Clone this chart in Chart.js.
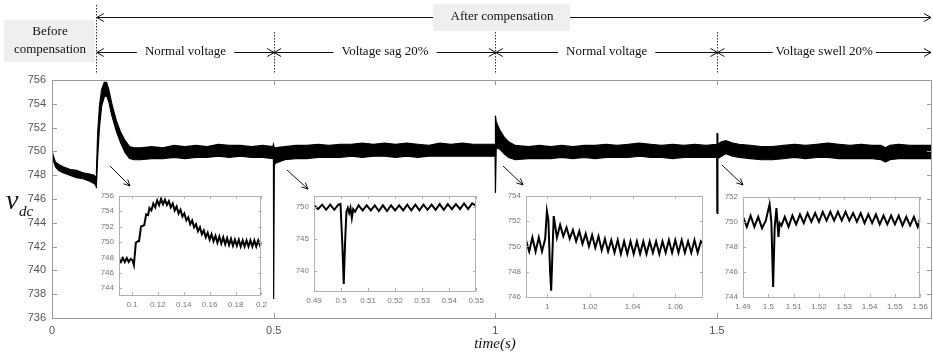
<!DOCTYPE html>
<html>
<head>
<meta charset="utf-8">
<script src="https://cdn.jsdelivr.net/npm/chart.js@4.4.1/dist/chart.umd.min.js"></script>
<style>
html, body { margin: 0; padding: 0; background: #fff; }
#wrap { position: relative; width: 933px; height: 357px; overflow: hidden; }
canvas { position: absolute; }
</style>
</head>
<body>
<div id="wrap">
  <canvas id="main" width="933" height="357" style="left:0;top:0"></canvas>
</div>
<script>
// ---- main trace: upper / lower edge of the noisy band ----
const mainT  = [0, 0.003, 0.008, 0.015, 0.025, 0.04, 0.055, 0.07, 0.085, 0.095, 0.0995, 0.1, 0.1005, 0.103, 0.107, 0.112, 0.118, 0.123, 0.128, 0.135, 0.145, 0.155, 0.165, 0.175, 0.185, 0.2, 0.225, 0.25, 0.275, 0.3, 0.325, 0.35, 0.375, 0.4, 0.425, 0.45, 0.475, 0.4985, 0.4995, 0.5, 0.5015, 0.503, 0.525, 0.55, 0.575, 0.6, 0.625, 0.65, 0.675, 0.7, 0.725, 0.75, 0.775, 0.8, 0.825, 0.85, 0.875, 0.9, 0.925, 0.95, 0.975, 0.9995, 1.0, 1.0005, 1.002, 1.01, 1.02, 1.03, 1.045, 1.075, 1.1, 1.125, 1.15, 1.175, 1.2, 1.225, 1.25, 1.275, 1.3, 1.325, 1.35, 1.375, 1.4, 1.425, 1.45, 1.475, 1.4995, 1.5, 1.5005, 1.502, 1.51, 1.52, 1.535, 1.55, 1.575, 1.6, 1.625, 1.65, 1.675, 1.7, 1.725, 1.75, 1.775, 1.8, 1.825, 1.85, 1.87, 1.88, 1.89, 1.91, 1.935, 1.96, 1.99];
const mainHi = [750.1, 749.6, 749.1, 748.9, 748.7, 748.5, 748.4, 748.2, 748.1, 748.0, 747.8, 747.6, 748.3, 751.5, 753.8, 755.2, 755.8, 755.8, 755.2, 754.0, 752.6, 751.6, 750.9, 750.4, 750.3, 750.3, 750.4, 750.3, 750.5, 750.4, 750.5, 750.4, 750.6, 750.5, 750.5, 750.4, 750.5, 750.4, 750.6, 750.6, 750.3, 750.3, 750.4, 750.5, 750.5, 750.6, 750.5, 750.6, 750.6, 750.7, 750.6, 750.7, 750.6, 750.7, 750.6, 750.5, 750.7, 750.6, 750.7, 750.6, 750.6, 750.6, 753.0, 753.0, 752.5, 751.8, 751.2, 750.8, 750.5, 750.4, 750.5, 750.4, 750.5, 750.4, 750.5, 750.5, 750.6, 750.5, 750.6, 750.7, 750.6, 750.5, 750.6, 750.5, 750.6, 750.5, 750.6, 751.5, 751.5, 750.6, 750.8, 750.9, 750.7, 750.6, 750.5, 750.4, 750.4, 750.5, 750.6, 750.5, 750.6, 750.7, 750.6, 750.5, 750.6, 750.5, 750.5, 750.3, 750.5, 750.6, 750.5, 750.5, 750.5];
const mainLo = [749.9, 749.2, 748.7, 748.4, 748.2, 748.0, 747.8, 747.7, 747.5, 747.3, 747.1, 746.9, 747.2, 749.5, 752.0, 753.8, 754.6, 754.7, 754.2, 753.0, 751.7, 750.7, 749.9, 749.4, 749.3, 749.3, 749.4, 749.4, 749.5, 749.4, 749.5, 749.5, 749.6, 749.5, 749.6, 749.5, 749.5, 749.4, 749.4, 737.6, 749.1, 749.0, 749.3, 749.4, 749.4, 749.5, 749.5, 749.5, 749.6, 749.5, 749.6, 749.6, 749.5, 749.6, 749.5, 749.6, 749.6, 749.6, 749.6, 749.6, 749.6, 749.6, 746.6, 746.5, 750.3, 750.2, 749.8, 749.5, 749.3, 749.4, 749.4, 749.4, 749.5, 749.4, 749.5, 749.4, 749.5, 749.5, 749.5, 749.6, 749.5, 749.5, 749.4, 749.5, 749.5, 749.5, 749.5, 744.9, 744.8, 749.4, 749.6, 749.8, 749.6, 749.5, 749.4, 749.3, 749.3, 749.4, 749.5, 749.4, 749.5, 749.5, 749.4, 749.4, 749.4, 749.4, 749.3, 749.1, 749.3, 749.4, 749.4, 749.4, 749.4];
const mainXTicks = [0, 0.5, 1, 1.5];
const mainYTicks = [736, 738, 740, 742, 744, 746, 748, 750, 752, 754, 756];

// ---- phases ----
const phaseT = [0.1, 0.5, 1, 1.5];
const phaseLabels = ['Normal voltage', 'Voltage sag 20%', 'Normal voltage', 'Voltage swell 20%'];

// ---- zoomed insets ----
const inset1T = [0.0900, 0.0915, 0.0930, 0.0945, 0.0960, 0.0975, 0.0990, 0.1005, 0.1015, 0.1030, 0.1045, 0.1055, 0.1070, 0.1085, 0.1095, 0.1110, 0.1125, 0.1135, 0.1150, 0.1165, 0.1180, 0.1195, 0.1210, 0.1225, 0.1240, 0.1255, 0.1270, 0.1285, 0.1300, 0.1315, 0.1330, 0.1345, 0.1360, 0.1375, 0.1390, 0.1405, 0.1420, 0.1435, 0.1450, 0.1465, 0.1480, 0.1495, 0.1510, 0.1525, 0.1540, 0.1555, 0.1570, 0.1585, 0.1600, 0.1615, 0.1630, 0.1645, 0.1660, 0.1675, 0.1690, 0.1705, 0.1720, 0.1735, 0.1750, 0.1765, 0.1780, 0.1795, 0.1810, 0.1825, 0.1840, 0.1855, 0.1870, 0.1885, 0.1900, 0.1915, 0.1930, 0.1945, 0.1960, 0.1975, 0.1990, 0.2000];
const inset1V = [747.8, 747.4, 747.9, 747.4, 747.9, 747.4, 747.8, 747.6, 747.0, 749.9, 750.1, 750.1, 752.0, 752.1, 752.2, 753.6, 753.5, 754.4, 754.1, 755.0, 754.5, 755.4, 754.8, 755.6, 754.9, 755.5, 754.8, 755.3, 754.5, 755.0, 754.1, 754.6, 753.7, 754.2, 753.3, 753.7, 752.8, 753.2, 752.3, 752.8, 751.9, 752.3, 751.4, 751.9, 751.0, 751.5, 750.6, 751.2, 750.3, 751.0, 750.1, 750.8, 749.9, 750.7, 749.8, 750.6, 749.7, 750.5, 749.6, 750.4, 749.5, 750.3, 749.5, 750.3, 749.4, 750.2, 749.4, 750.2, 749.4, 750.2, 749.4, 750.2, 749.4, 750.2, 749.5, 750.0];
const inset1XTicks = [0.1, 0.12, 0.14, 0.16, 0.18, 0.2];
const inset1YTicks = [744, 746, 748, 750, 752, 754, 756];

const inset2T = [0.4900, 0.4915, 0.4930, 0.4945, 0.4960, 0.4975, 0.4990, 0.4998, 0.5005, 0.5010, 0.5015, 0.5020, 0.5025, 0.5030, 0.5035, 0.5040, 0.5045, 0.5052, 0.5065, 0.5080, 0.5095, 0.5110, 0.5125, 0.5140, 0.5155, 0.5170, 0.5185, 0.5200, 0.5215, 0.5230, 0.5245, 0.5260, 0.5275, 0.5290, 0.5305, 0.5320, 0.5335, 0.5350, 0.5365, 0.5380, 0.5395, 0.5410, 0.5425, 0.5440, 0.5455, 0.5470, 0.5485, 0.5500];
const inset2V = [750.3, 749.7, 750.4, 749.6, 750.4, 749.6, 750.4, 750.5, 744.0, 737.9, 744.5, 749.3, 749.9, 749.1, 749.9, 748.3, 749.7, 749.3, 750.3, 749.5, 750.3, 749.5, 750.3, 749.4, 750.3, 749.4, 750.3, 749.5, 750.3, 749.5, 750.4, 749.5, 750.4, 749.5, 750.4, 749.6, 750.4, 749.6, 750.5, 749.6, 750.5, 749.7, 750.5, 749.7, 750.6, 749.7, 750.6, 750.2];
const inset2XTicks = [0.49, 0.5, 0.51, 0.52, 0.53, 0.54, 0.55];
const inset2YTicks = [740, 745, 750];

const inset3T = [0.9900, 0.9915, 0.9930, 0.9945, 0.9960, 0.9975, 0.9990, 0.9998, 1.0005, 1.0013, 1.0018, 1.0024, 1.0030, 1.0045, 1.0060, 1.0075, 1.0090, 1.0105, 1.0120, 1.0135, 1.0150, 1.0165, 1.0180, 1.0195, 1.0210, 1.0225, 1.0240, 1.0255, 1.0270, 1.0285, 1.0300, 1.0315, 1.0330, 1.0345, 1.0360, 1.0375, 1.0390, 1.0405, 1.0420, 1.0435, 1.0450, 1.0465, 1.0480, 1.0495, 1.0510, 1.0525, 1.0540, 1.0555, 1.0570, 1.0585, 1.0600, 1.0615, 1.0630, 1.0645, 1.0660, 1.0675, 1.0690, 1.0705, 1.0720, 1.0730];
const inset3V = [750.5, 749.6, 750.7, 749.6, 750.7, 749.6, 750.6, 752.8, 752.1, 748.0, 746.5, 749.5, 752.4, 750.7, 751.7, 750.8, 751.5, 750.6, 751.3, 750.4, 751.2, 750.2, 751.0, 750.0, 750.9, 749.9, 750.8, 749.7, 750.6, 749.6, 750.5, 749.5, 750.5, 749.4, 750.4, 749.4, 750.4, 749.4, 750.4, 749.4, 750.4, 749.4, 750.4, 749.5, 750.4, 749.4, 750.4, 749.5, 750.5, 749.5, 750.5, 749.5, 750.5, 749.5, 750.4, 749.5, 750.5, 749.5, 750.4, 750.2];
const inset3XTicks = [1, 1.02, 1.04, 1.06];
const inset3YTicks = [746, 748, 750, 752, 754];

const inset4T = [1.4900, 1.4915, 1.4930, 1.4945, 1.4960, 1.4975, 1.4990, 1.5005, 1.5012, 1.5019, 1.5025, 1.5032, 1.5040, 1.5045, 1.5052, 1.5065, 1.5080, 1.5095, 1.5110, 1.5125, 1.5140, 1.5155, 1.5170, 1.5185, 1.5200, 1.5215, 1.5230, 1.5245, 1.5260, 1.5275, 1.5290, 1.5305, 1.5320, 1.5335, 1.5350, 1.5365, 1.5380, 1.5395, 1.5410, 1.5425, 1.5440, 1.5455, 1.5470, 1.5485, 1.5500, 1.5515, 1.5530, 1.5545, 1.5560, 1.5575, 1.5590, 1.5600];
const inset4V = [750.4, 749.6, 750.5, 749.6, 750.4, 749.5, 750.1, 751.4, 750.0, 744.8, 749.5, 751.1, 748.8, 749.9, 749.7, 750.4, 749.6, 750.5, 749.8, 750.6, 749.9, 750.7, 750.0, 750.7, 750.0, 750.8, 750.1, 750.8, 750.1, 750.8, 750.1, 750.8, 750.1, 750.7, 750.0, 750.7, 749.9, 750.6, 749.9, 750.6, 749.8, 750.5, 749.8, 750.5, 749.8, 750.5, 749.7, 750.4, 749.7, 750.4, 749.6, 750.3];
const inset4XTicks = [1.49, 1.5, 1.51, 1.52, 1.53, 1.54, 1.55, 1.56];
const inset4YTicks = [744, 746, 748, 750, 752];

const pts = (t, v) => t.map((x, i) => ({ x: x, y: v[i] }));

// frame round the plot area, with MATLAB-like inward ticks on every side
function boxPlugin(len, color) {
  return {
    id: 'boxTicks',
    afterDatasetsDraw(chart) {
      const ctx = chart.ctx, a = chart.chartArea;
      const xs = chart.scales.x, ys = chart.scales.y;
      ctx.save();
      ctx.strokeStyle = color;
      ctx.lineWidth = 1;
      ctx.strokeRect(Math.round(a.left) + 0.5, Math.round(a.top) + 0.5,
        Math.round(a.right - a.left) - 1, Math.round(a.bottom - a.top));
      ctx.beginPath();
      xs.ticks.forEach(t => {
        const x = Math.round(xs.getPixelForValue(t.value)) + 0.5;
        ctx.moveTo(x, a.bottom); ctx.lineTo(x, a.bottom - len);
        ctx.moveTo(x, a.top); ctx.lineTo(x, a.top + len);
      });
      ys.ticks.forEach(t => {
        const y = Math.round(ys.getPixelForValue(t.value)) + 0.5;
        ctx.moveTo(a.left, y); ctx.lineTo(a.left + len, y);
        ctx.moveTo(a.right, y); ctx.lineTo(a.right - len, y);
      });
      ctx.stroke();
      ctx.restore();
    }
  };
}

function chevron(ctx, x, y, dir) {
  ctx.beginPath();
  ctx.moveTo(x - dir * 7, y - 4);
  ctx.lineTo(x, y);
  ctx.lineTo(x - dir * 7, y + 4);
  ctx.stroke();
}

function arrowTo(ctx, x1, y1, x2, y2) {
  const ang = Math.atan2(y2 - y1, x2 - x1);
  ctx.beginPath();
  ctx.moveTo(x1, y1); ctx.lineTo(x2, y2);
  ctx.moveTo(x2 - 7 * Math.cos(ang - 0.45), y2 - 7 * Math.sin(ang - 0.45));
  ctx.lineTo(x2, y2);
  ctx.lineTo(x2 - 7 * Math.cos(ang + 0.45), y2 - 7 * Math.sin(ang + 0.45));
  ctx.stroke();
}

const notes = {
  id: 'notes',
  afterDraw(chart) {
    const ctx = chart.ctx, xs = chart.scales.x;
    const serif = '"Liberation Serif", "Times New Roman", serif';
    ctx.save();
    // dotted phase boundaries
    ctx.strokeStyle = '#333';
    ctx.lineWidth = 1;
    ctx.setLineDash([1.5, 1.5]);
    phaseT.forEach((t, i) => {
      const x = Math.round(xs.getPixelForValue(t)) + 0.5;
      ctx.beginPath();
      ctx.moveTo(x, i === 0 ? 5 : 32);
      ctx.lineTo(x, 73);
      ctx.stroke();
    });
    ctx.setLineDash([]);

    // grey label boxes
    ctx.fillStyle = '#efefef';
    ctx.fillRect(4, 20, 91, 42);
    ctx.font = '13px ' + serif;
    ctx.textAlign = 'center';
    ctx.textBaseline = 'middle';

    // top arrow: after compensation
    const x0 = xs.getPixelForValue(phaseT[0]);
    ctx.strokeStyle = '#111';
    ctx.beginPath(); ctx.moveTo(x0, 17.5); ctx.lineTo(931, 17.5); ctx.stroke();
    chevron(ctx, x0 + 0.5, 17.5, -1);
    chevron(ctx, 931, 17.5, 1);
    ctx.fillStyle = '#efefef';
    ctx.fillRect(433, 4, 137, 27);
    ctx.fillStyle = '#111';
    ctx.fillText('After compensation', 502, 17);
    ctx.fillText('Before', 50, 32);
    ctx.fillText('compensation', 50, 50);

    // phase arrows
    const ends = phaseT.map(t => xs.getPixelForValue(t)).concat([931]);
    phaseLabels.forEach((lab, i) => {
      const l = ends[i] + 0.5, r = ends[i + 1] + (i === 3 ? 0 : 0.5);
      const c = (l + r) / 2;
      const w = ctx.measureText(lab).width;
      const gap = i === 3 ? 3 : 8;
      ctx.beginPath();
      ctx.moveTo(l, 52.5); ctx.lineTo(c - w / 2 - gap, 52.5);
      ctx.moveTo(c + w / 2 + gap, 52.5); ctx.lineTo(r, 52.5);
      ctx.stroke();
      chevron(ctx, l, 52.5, -1);
      chevron(ctx, r, 52.5, 1);
      ctx.fillText(lab, c, 52);
    });

    // small arrows pointing at the insets
    ctx.lineWidth = 1;
    arrowTo(ctx, 110, 166, 130, 186);
    arrowTo(ctx, 287, 170, 308, 189);
    arrowTo(ctx, 503, 166, 523, 185);
    arrowTo(ctx, 722, 165, 743, 185);

    // axis titles
    ctx.textAlign = 'left';
    ctx.textBaseline = 'alphabetic';
    ctx.font = 'italic 28px ' + serif;
    ctx.fillText('v', 6, 209);
    ctx.font = 'italic 15px ' + serif;
    ctx.fillText('dc', 19, 216);
    ctx.textAlign = 'center';
    ctx.font = 'italic 15px ' + serif;
    ctx.fillText('time(s)', 495, 348);
    ctx.restore();
  }
};

const tickFont = { family: '"Liberation Sans", Arial, sans-serif', size: 11 };

new Chart(document.getElementById('main'), {
  type: 'line',
  data: {
    datasets: [{
      data: pts(mainT, mainHi),
      borderColor: '#000', backgroundColor: '#000', borderWidth: 1.2,
      pointRadius: 0, fill: '+1', tension: 0
    }, {
      data: pts(mainT, mainLo),
      borderColor: '#000', backgroundColor: '#000', borderWidth: 1.2,
      pointRadius: 0, fill: false, tension: 0
    }]
  },
  options: {
    responsive: false,
    animation: false,
    layout: { padding: { top: 80, right: 1, left: 0, bottom: 0 }, autoPadding: false },
    plugins: { legend: { display: false }, tooltip: { enabled: false } },
    scales: {
      x: {
        type: 'linear', min: 0, max: 1.985,
        grid: { display: false, drawTicks: false }, border: { display: false },
        afterBuildTicks: s => { s.ticks = mainXTicks.map(v => ({ value: v })); },
        afterFit: s => { s.height = 39; },
        ticks: { padding: 6, color: '#555', font: tickFont, maxRotation: 0, callback: v => String(v) }
      },
      y: {
        min: 736, max: 756,
        grid: { display: false, drawTicks: false }, border: { display: false },
        afterBuildTicks: s => { s.ticks = mainYTicks.map(v => ({ value: v })); },
        afterFit: s => { s.width = 52; },
        ticks: { padding: 6, color: '#555', font: tickFont, callback: v => String(v) }
      }
    }
  },
  plugins: [boxPlugin(5, '#9a9a9a'), notes]
});

// ---- insets ----
const insets = [
  { box: [119, 192, 262, 295], x: [0.09, 0.2], y: [743.1, 756], xt: inset1XTicks, yt: inset1YTicks, t: inset1T, v: inset1V },
  { box: [314, 192, 479, 291], x: [0.49, 0.55], y: [736.8, 751.8], xt: inset2XTicks, yt: inset2YTicks, t: inset2T, v: inset2V },
  { box: [526, 192, 703, 297], x: [0.99, 1.073], y: [746, 754], xt: inset3XTicks, yt: inset3YTicks, t: inset3T, v: inset3V },
  { box: [743, 193, 923, 297], x: [1.49, 1.56], y: [744, 752], xt: inset4XTicks, yt: inset4YTicks, t: inset4T, v: inset4V }
];
const smallFont = { family: '"Liberation Sans", Arial, sans-serif', size: 8 };
const padL = 30, padT = 6, padR = 10, padB = 18;

insets.forEach(ins => {
  const c = document.createElement('canvas');
  const w = ins.box[2] - ins.box[0], h = ins.box[3] - ins.box[1];
  c.width = w + padL + padR;
  c.height = h + padT + padB;
  c.style.left = (ins.box[0] - padL) + 'px';
  c.style.top = (ins.box[1] - padT) + 'px';
  document.getElementById('wrap').appendChild(c);
  new Chart(c, {
    type: 'line',
    data: {
      datasets: [{
        data: pts(ins.t, ins.v),
        borderColor: '#000', borderWidth: 2, pointRadius: 0, tension: 0,
        fill: false, borderJoinStyle: 'miter'
      }]
    },
    options: {
      responsive: false,
      animation: false,
      layout: { padding: { top: padT, right: padR, left: 0, bottom: 0 }, autoPadding: false },
      plugins: { legend: { display: false }, tooltip: { enabled: false } },
      scales: {
        x: {
          type: 'linear', min: ins.x[0], max: ins.x[1],
          grid: { display: false, drawTicks: false }, border: { display: false },
          afterBuildTicks: s => { s.ticks = ins.xt.map(v => ({ value: v })); },
          afterFit: s => { s.height = padB; },
          ticks: { padding: 5, color: '#777', font: smallFont, maxRotation: 0, callback: v => String(v) }
        },
        y: {
          min: ins.y[0], max: ins.y[1],
          grid: { display: false, drawTicks: false }, border: { display: false },
          afterBuildTicks: s => { s.ticks = ins.yt.map(v => ({ value: v })); },
          afterFit: s => { s.width = padL; },
          ticks: { padding: 5, color: '#777', font: smallFont, callback: v => String(v) }
        }
      }
    },
    plugins: [boxPlugin(3, '#b0b0b0')]
  });
});
</script>
</body>
</html>
